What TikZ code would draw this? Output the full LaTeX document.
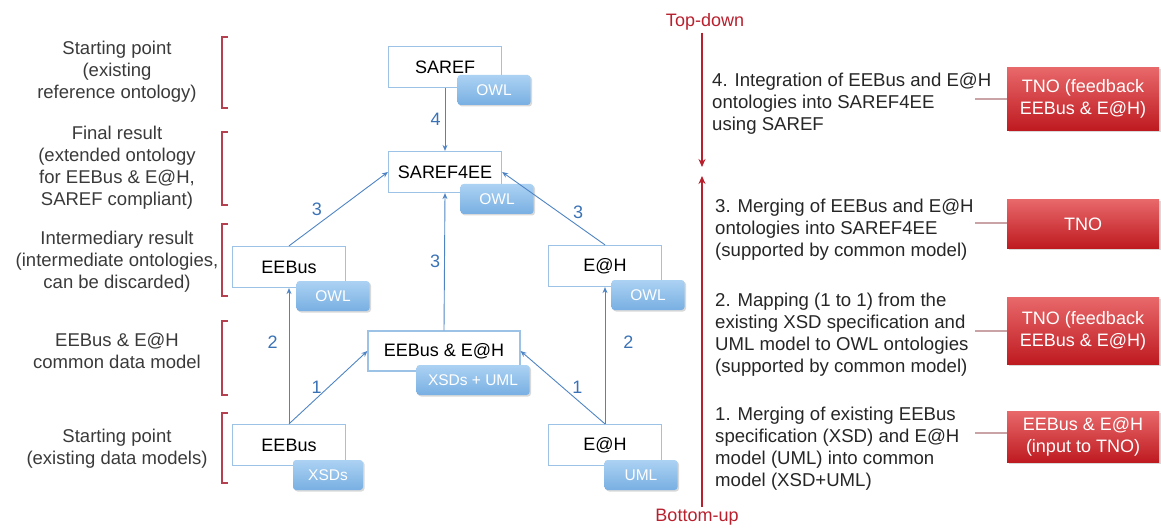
\documentclass[tikz,border=0pt]{standalone}
\usepackage{fontspec}
\setmainfont{Liberation Sans}
\usetikzlibrary{arrows.meta,shadows}

\definecolor{boxline}{HTML}{9CC2E5}
\definecolor{flowblue}{HTML}{4F84C4}
\definecolor{numblue}{HTML}{3A72B6}
\definecolor{tagtop}{HTML}{ACD2F3}
\definecolor{tagbot}{HTML}{78AFE2}
\definecolor{brkred}{HTML}{B5404F}
\definecolor{dirred}{HTML}{B8202E}
\definecolor{redtop}{HTML}{E8686A}
\definecolor{redbot}{HTML}{BE1A20}
\definecolor{tiegrey}{HTML}{C9A3A6}
\definecolor{lbltext}{HTML}{3A3A3A}

\tikzset{
box/.style={draw=boxline, line width=1.2pt, fill=white, minimum width=113pt, minimum height=41pt, font=\fontsize{18}{22}\selectfont},
tag/.style={rounded corners=3pt, top color=tagtop, bottom color=tagbot, text=white, minimum height=30pt, inner sep=0pt, font=\fontsize{15.5}{18}\selectfont, drop shadow={opacity=.3,shadow xshift=1.5pt,shadow yshift=-1.5pt}},
flow/.style={draw=flowblue, line width=.9pt, -{Stealth[length=6pt,width=5pt]}},
num/.style={text=numblue, font=\fontsize{18}{22}\selectfont, inner sep=4pt},
lbl/.style={align=center, text=lbltext, font=\fontsize{18.5}{22}\selectfont},
brk/.style={draw=brkred, line width=1.5pt},
stage/.style={align=left, anchor=west, text=black!85, inner sep=0pt, font=\fontsize{18.6}{22}\selectfont},
who/.style={top color=redtop, bottom color=redbot, text=white, minimum width=152pt, align=center, inner sep=2pt, font=\fontsize{18}{22}\selectfont, drop shadow={opacity=.3,shadow xshift=1.5pt,shadow yshift=-1.5pt}},
dir/.style={draw=dirred, line width=1.6pt, -{Stealth[length=8pt,width=7pt]}},
tie/.style={draw=tiegrey, line width=1.6pt},
}

\begin{document}
\begin{tikzpicture}[x=1pt,y=-1pt]
\useasboundingbox (0,0) rectangle (1161,529);

% levels on the left
\node[lbl] (lblA) at (117,72) {Starting point\\(existing\\reference ontology)};
\node[lbl] (lblB) at (117,168) {Final result\\(extended ontology\\for EEBus \& E@H,\\SAREF compliant)};
\node[lbl] (lblC) at (117,262) {Intermediary result\\(intermediate ontologies,\\can be discarded)};
\node[lbl] (lblD) at (117,351) {EEBus \& E@H\\common data model};
\node[lbl] (lblE) at (117,449) {Starting point\\(existing data models)};

\foreach \a/\b in {37/108, 132/205, 224/296, 321/395, 413/483} {
\draw[brk] (228,\a) -| (222,\b) -- (228,\b);
};

% models
\node[box] (saref) at (445,67) {SAREF};
\node[box] (saref4ee) at (445,172) {SAREF4EE};
\node[box] (eebusI) at (289,267) {EEBus};
\node[box] (eahI) at (605,266) {E@H};
\node[box, minimum width=152pt, minimum height=40pt] (common) at (444,351) {EEBus \& E@H};
\node[box] (eebus) at (289,445) {EEBus};
\node[box] (eah) at (605,445) {E@H};

\node[tag, minimum width=73pt] (sarefowl) at (494,90) {OWL};
\node[tag, minimum width=73pt] (saref4eeowl) at (497,199) {OWL};
\node[tag, minimum width=73pt] (eebusowl) at (333,296) {OWL};
\node[tag, minimum width=73pt] (eahowl) at (648,295) {OWL};
\node[tag, minimum width=113pt] (commonxu) at (473,380) {XSDs + UML};
\node[tag, minimum width=70pt] (eebusxsd) at (328,475) {XSDs};
\node[tag, minimum width=73pt] (eahuml) at (641,475) {UML};

\draw[flow] (saref.south) -- node[num, left] {4} (saref4ee.north);
\draw[flow] (eebusI.north) -- node[num, pos=.5, left=12pt] {3} (saref4ee.west);
\draw[flow] (common.north) -- node[num, left] {3} (saref4ee.south);
\draw[flow] (eahI.north) -- node[num, pos=.45, right=10pt] {3} (saref4ee.east);
\draw[flow] (eebus.north) -- node[num, pos=.6, left=7pt] {2} (eebusI.south);
\draw[flow] (eah.north) -- node[num, pos=.6, right=14pt] {2} (eahI.south);
\draw[flow] (eebus.north) -- node[num, pos=.5, left=2pt] {1} (common.west);
\draw[flow] (eah.north) -- node[num, pos=.5, right=5pt] {1} (common.east);

% direction
\node[text=dirred, inner sep=2pt, font=\fontsize{18}{22}\selectfont] (topdown) at (705,22) {Top-down};
\node[text=dirred, inner sep=2pt, font=\fontsize{18}{22}\selectfont] (bottomup) at (697,517) {Bottom-up};
\coordinate (tdEnd) at (702,167);
\coordinate (buEnd) at (702,176);
\draw[dir] (topdown.south -| tdEnd) -- (tdEnd);
\draw[dir] (bottomup.north -| buEnd) -- (buEnd);

% steps and who does them
\node[stage] (stA) at (712,104) {4. Integration of EEBus and E@H\\ontologies into SAREF4EE\\using SAREF};
\node[stage] (stB) at (715,230) {3. Merging of EEBus and E@H\\ontologies into SAREF4EE\\(supported by common model)};
\node[stage] (stC) at (715,335) {2. Mapping (1 to 1) from the\\existing XSD specification and\\UML model to OWL ontologies\\(supported by common model)};
\node[stage] (stD) at (715,449) {1. Merging of existing EEBus\\specification (XSD) and E@H\\model (UML) into common\\model (XSD+UML)};

\node[who, minimum height=63pt] (whoA) at (1083,99) {TNO (feedback\\EEBus \& E@H)};
\node[who, minimum height=49pt] (whoB) at (1083,224) {TNO};
\node[who, minimum height=67pt] (whoC) at (1083,331) {TNO (feedback\\EEBus \& E@H)};
\node[who, minimum height=51pt] (whoD) at (1083,437) {EEBus \& E@H\\(input to TNO)};

\foreach \n/\y in {A/99, B/223, C/331, D/433} {
\coordinate (tie\n) at (975,\y);
\draw[tie] (tie\n) -- (tie\n -| who\n.west);
};

\end{tikzpicture}
\end{document}
